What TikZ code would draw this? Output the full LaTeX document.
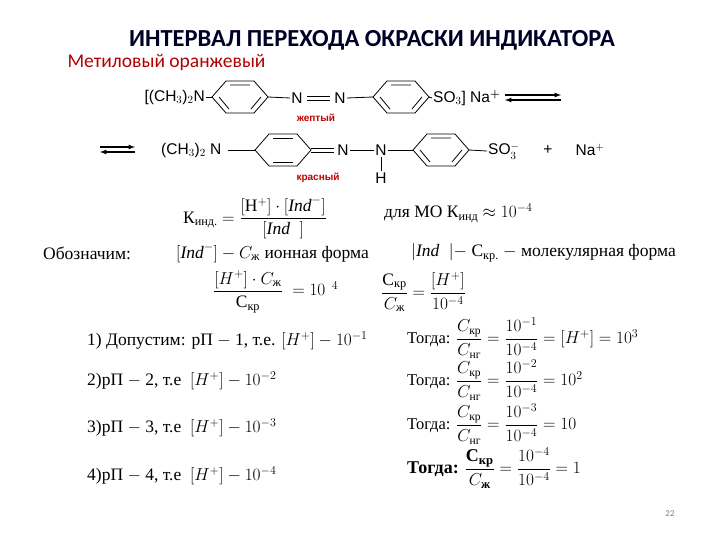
\documentclass[tikz,border=0pt]{standalone}
\usepackage{fontspec}
\usepackage{amsmath}
\setmainfont{Liberation Serif}
\newfontfamily\calfont{Carlito}
\newfontfamily\ars{Liberation Sans}
\begin{document}
\begin{tikzpicture}[x=1pt,y=-1pt,
  chem/.style={font=\ars\fontsize{15.5}{16}\selectfont,inner sep=1pt},
  eq/.style={font=\fontsize{17.5}{19}\selectfont,inner sep=1pt,anchor=west},
  req/.style={font=\fontsize{16.5}{18}\selectfont,inner sep=0pt,anchor=west},
  red/.style={font=\ars\bfseries\fontsize{10}{11}\selectfont,text=red!75!black},
  bond/.style={line width=0.8pt}]
\useasboundingbox (0,0) rectangle (720,540);
\node[font=\calfont\bfseries\fontsize{24.5}{28}\selectfont,text=black!85!blue] (title) at (372,40) {ИНТЕРВАЛ ПЕРЕХОДА ОКРАСКИ ИНДИКАТОРА};
\node[font=\calfont\fontsize{19.5}{22}\selectfont,text=red!70!black,anchor=west] (sub) at (64,62) {Метиловый оранжевый};
\newcommand\ringhex[2]{%
 \draw[bond] (#1-28,#2) -- (#1-14,#2-16) -- (#1+14,#2-16) -- (#1+28,#2) -- (#1+14,#2+16) -- (#1-14,#2+16) -- cycle;}
\newcommand\arom[2]{\ringhex{#1}{#2}%
 \draw[bond] (#1-10,#2-12) -- (#1+10,#2-12) (#1-21,#2) -- (#1-11,#2+12) (#1+21,#2) -- (#1+11,#2+12);}
% row 1
\node[chem,anchor=east] (a1) at (206,97) {[(CH$_3$)$_2$N};
\arom{240}{97}
\draw[bond] (a1.east) -- (212,97);
\node[chem] (n1) at (297,98) {N};
\node[chem] (n2) at (340,98) {N};
\draw[bond] (268,97) -- (n1.west);
\draw[bond] (307,96) -- (330,96) (307,100) -- (330,100);
\arom{401}{97}
\draw[bond] (n2.east) -- (373,97);
\node[chem,anchor=west] (so) at (432,98) {SO$_3$] Na$^{\boldsymbol +}$};
\draw[bond] (429,97) -- (so.west);
\draw[line width=1.2pt,-latex] (505,95) -- (561,95);
\draw[line width=1.2pt,-latex] (561,100) -- (505,100);
\node[red] (ye) at (316,118) {жептый};
% row 2
\draw[line width=1.2pt,-latex] (100,147) -- (135,147);
\draw[line width=1.2pt,-latex] (135,152) -- (100,152);
\node[chem,anchor=west] (b1) at (160,150) {(CH$_3$)$_2$ N};
\ringhex{283}{150}
\draw[bond] (273,138)--(293,138) (273,162)--(293,162);
\draw[bond] (b1.east)++(5,0) -- (255,150);
\node[chem] (m1) at (343,150) {N};
\node[chem] (m2) at (381,150) {N};
\node[chem] (hh) at (381,178) {H};
\draw[bond] (311,148) -- (334,148) (311,152)--(334,152);
\draw[bond] (m1.east) -- (m2.west);
\draw[bond] (m2.south) -- (hh.north);
\arom{441}{150}
\draw[bond] (m2.east) -- (413,150);
\node[chem,anchor=west] (so2) at (487,151) {SO$_3^{-}$};
\draw[bond] (469,150) -- (so2.west);
\node[chem] (pl) at (548,150) {+};
\node[chem] (na) at (590,150) {Na$^+$};
\node[red] (re) at (318,178) {красный};
% equations
\node[eq] (k) at (182,218) {К$_{\text{инд.}}$ $= \dfrac{[\mathrm{H}^+]\cdot[\mathit{Ind}^-]}{[\mathit{Ind}\;\;]}$};
\node[eq] (mo) at (383,213) {для МО К$_{\text{инд}}$ $\approx 10^{-4}$};
\node[eq] (ob) at (42,253) {Обозначим:};
\node[eq] (io) at (175,253) {$[\mathit{Ind}^-]-C_{\text{ж}}$ ионная форма};
\node[eq] (mf) at (410,253) {$|\mathit{Ind}\;\;|-$ С$_{\text{кр.}}$ $-$ молекулярная форма};
\node[eq] (f1) at (212,292) {$\dfrac{[H^+]\cdot C_{\text{ж}}}{\text{С}_{\text{кр}}}\;=10^{\ \,4}$};
\node[eq] (f2) at (380,292) {$\dfrac{\text{С}_{\text{кр}}}{C_{\text{ж}}}=\dfrac{[H^+]}{10^{-4}}$};
\node[eq] (l1) at (86,341) {1) Допустим: рП $-$ 1, т.е. $[H^+]-10^{-1}$};
\node[eq] (l2) at (86,381) {2)рП $-$ 2, т.е \ $[H^+]-10^{-2}$};
\node[eq] (l3) at (86,428) {3)рП $-$ 3, т.е \ $[H^+]-10^{-3}$};
\node[eq] (l4) at (86,476) {4)рП $-$ 4, т.е \ $[H^+]-10^{-4}$};
\node[req] (r1) at (407,338) {Тогда: $\dfrac{C_{\text{кр}}}{C_{\text{нг}}}=\dfrac{10^{-1}}{10^{-4}}=[H^+]=10^3$};
\node[req] (r2) at (407,380) {Тогда: $\dfrac{C_{\text{кр}}}{C_{\text{нг}}}=\dfrac{10^{-2}}{10^{-4}}=10^2$};
\node[req] (r3) at (407,424) {Тогда: $\dfrac{C_{\text{кр}}}{C_{\text{нг}}}=\dfrac{10^{-3}}{10^{-4}}=10$};
\node[req,font=\bfseries\fontsize{18}{20}\selectfont] (r4) at (407,468) {Тогда: $\dfrac{\text{С}_{\text{кр}}}{C_{\text{ж}}}=\dfrac{10^{-4}}{10^{-4}}=1$};
\node[font=\calfont\fontsize{9}{10}\selectfont,text=gray] (pg) at (670,514) {22};
\end{tikzpicture}
\end{document}
